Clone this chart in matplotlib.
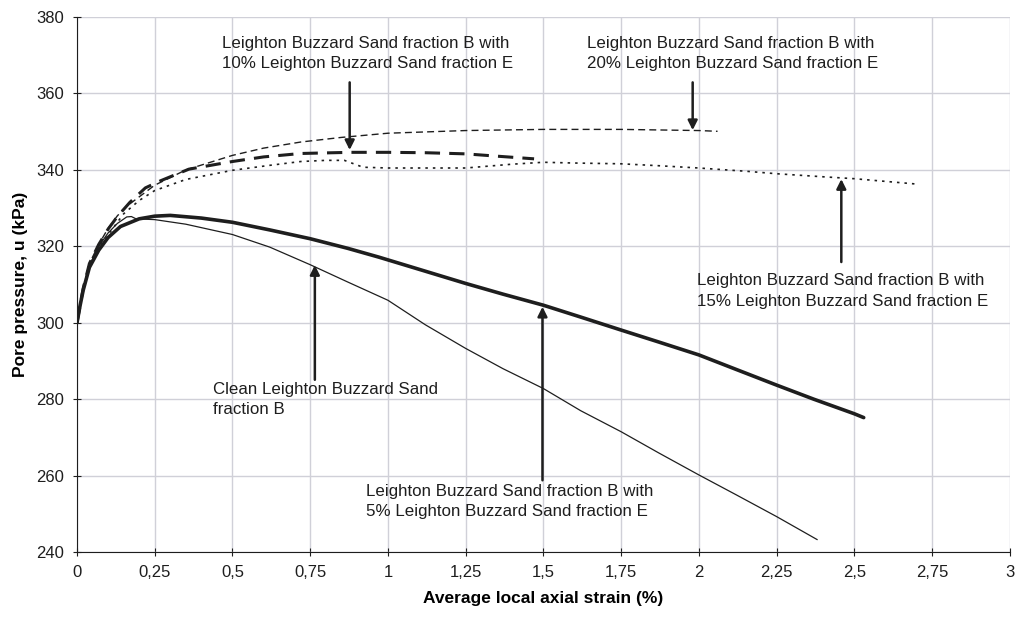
import matplotlib
matplotlib.use('Agg')
import matplotlib.pyplot as plt
from matplotlib.ticker import FuncFormatter, MultipleLocator

plt.rcParams['font.family'] = ['Liberation Sans', 'DejaVu Sans']

# clean Leighton Buzzard Sand fraction B
clean_x = [0, 0.01, 0.02, 0.04, 0.07, 0.1, 0.13, 0.16, 0.175, 0.19, 0.25, 0.35, 0.5,
           0.62, 0.75, 0.87, 1.0, 1.12, 1.25, 1.37, 1.5, 1.62, 1.75, 1.87, 2.0,
           2.12, 2.25, 2.38]
clean_u = [300, 305, 309, 315, 320, 323.5, 326, 327.7, 327.8, 327.2, 327.0, 325.8, 323.1,
           319.8, 315.2, 310.7, 305.9, 299.5, 293.3, 288, 282.8, 277, 271.5, 266, 260.2,
           255, 249.3, 243.3]

# 5% fraction E
e5_x = [0, 0.01, 0.02, 0.04, 0.07, 0.1, 0.14, 0.2, 0.25, 0.3, 0.4, 0.5, 0.62, 0.75,
        0.87, 0.97, 1.1, 1.25, 1.37, 1.5, 1.62, 1.75, 1.87, 2.0, 2.12, 2.25, 2.37,
        2.5, 2.53]
e5_u = [300, 304.5, 308.5, 314.5, 319, 322.3, 325.2, 327.2, 327.9, 328.1, 327.4, 326.3,
        324.3, 322, 319.5, 317.2, 314, 310.3, 307.5, 304.6, 301.5, 298.1, 295, 291.6,
        287.8, 283.7, 280, 276.2, 275.2]

# 10% fraction E
e10_x = [0, 0.02, 0.04, 0.07, 0.1, 0.13, 0.17, 0.22, 0.27, 0.36, 0.5, 0.6, 0.72, 0.88,
         1.0, 1.12, 1.25, 1.35, 1.47]
e10_u = [300, 309, 315.5, 320.5, 324.5, 327.8, 331.5, 335.3, 337.2, 340.2, 342.2, 343.4,
         344.3, 344.6, 344.6, 344.5, 344.2, 343.6, 342.9]

# 15% fraction E
e15_x = [0, 0.02, 0.04, 0.07, 0.1, 0.13, 0.15, 0.2, 0.25, 0.35, 0.5, 0.62, 0.72, 0.8,
         0.86, 0.92, 1.0, 1.1, 1.25, 1.4, 1.5, 1.6, 1.75, 1.87, 2.0, 2.16, 2.25, 2.4,
         2.5, 2.6, 2.7]
e15_u = [300, 309, 315, 319.5, 323, 326.3, 328.5, 332, 334.6, 337.5, 339.9, 341.2, 342.2,
         342.5, 342.5, 340.7, 340.5, 340.5, 340.5, 341.5, 342, 341.8, 341.6, 341.1, 340.5,
         339.6, 339, 338.2, 337.7, 337, 336.3]

# 20% fraction E
e20_x = [0, 0.02, 0.04, 0.07, 0.1, 0.13, 0.16, 0.25, 0.35, 0.5, 0.6, 0.72, 0.85, 1.0,
         1.25, 1.5, 1.75, 2.0, 2.06]
e20_u = [300, 309, 315.5, 320.5, 324.7, 328, 330.5, 336, 340, 343.8, 345.7, 347.3, 348.5,
         349.6, 350.3, 350.6, 350.6, 350.3, 350.1]

fig = plt.figure(figsize=(10.18, 6.19), dpi=100)
ax = fig.add_axes([0.0756, 0.108, 0.9164, 0.8645])

ink = '#1e1e1e'
ax.plot(e20_x, e20_u, color=ink, lw=1.0, dashes=(5, 3))
ax.plot(e15_x, e15_u, color=ink, lw=1.2, dashes=(1.5, 3))
ax.plot(e10_x, e10_u, color=ink, lw=2.2, dashes=(5, 3))
ax.plot(e5_x, e5_u, color=ink, lw=2.6, solid_capstyle='round')
ax.plot(clean_x, clean_u, color=ink, lw=0.9)

ax.set_xlim(0, 3)
ax.set_ylim(240, 380)
ax.xaxis.set_major_locator(MultipleLocator(0.25))
ax.yaxis.set_major_locator(MultipleLocator(20))
ax.xaxis.set_major_formatter(FuncFormatter(lambda v, p: ('%g' % v).replace('.', ',')))
ax.grid(True, color='#d0d0d8', lw=1)
ax.set_axisbelow(True)
for s in ['top', 'right']:
    ax.spines[s].set_visible(False)
for s in ['left', 'bottom']:
    ax.spines[s].set_color(ink)
ax.tick_params(axis='both', direction='inout', length=6, labelsize=12, colors=ink, pad=6)

ax.set_xlabel('Average local axial strain (%)', fontsize=12.5, fontweight='bold', labelpad=8)
ax.set_ylabel('Pore pressure, u (kPa)', fontsize=12.5, fontweight='bold', labelpad=6)

arrow = dict(arrowstyle='-|>', color=ink, lw=1.8, mutation_scale=14, shrinkA=0, shrinkB=0)
ax.annotate('', xy=(0.877, 345.2), xytext=(0.877, 362.9), arrowprops=arrow)
ax.annotate('', xy=(1.98, 350.4), xytext=(1.98, 362.9), arrowprops=arrow)
ax.annotate('', xy=(2.458, 337.6), xytext=(2.458, 315.9), arrowprops=arrow)
ax.annotate('', xy=(0.765, 315.1), xytext=(0.765, 285.1), arrowprops=arrow)
ax.annotate('', xy=(1.497, 304.2), xytext=(1.497, 258.8), arrowprops=arrow)

txt = dict(fontsize=12.2, color=ink, ha='left', va='center', linespacing=1.45)
ax.text(0.465, 370.5, 'Leighton Buzzard Sand fraction B with\n10% Leighton Buzzard Sand fraction E', **txt)
ax.text(1.64, 370.5, 'Leighton Buzzard Sand fraction B with\n20% Leighton Buzzard Sand fraction E', **txt)
ax.text(1.995, 308.3, 'Leighton Buzzard Sand fraction B with\n15% Leighton Buzzard Sand fraction E', **txt)
ax.text(0.437, 280.0, 'Clean Leighton Buzzard Sand\nfraction B', **txt)
ax.text(0.93, 253.3, 'Leighton Buzzard Sand fraction B with\n5% Leighton Buzzard Sand fraction E', **txt)

fig.savefig('out.png', dpi=100)
